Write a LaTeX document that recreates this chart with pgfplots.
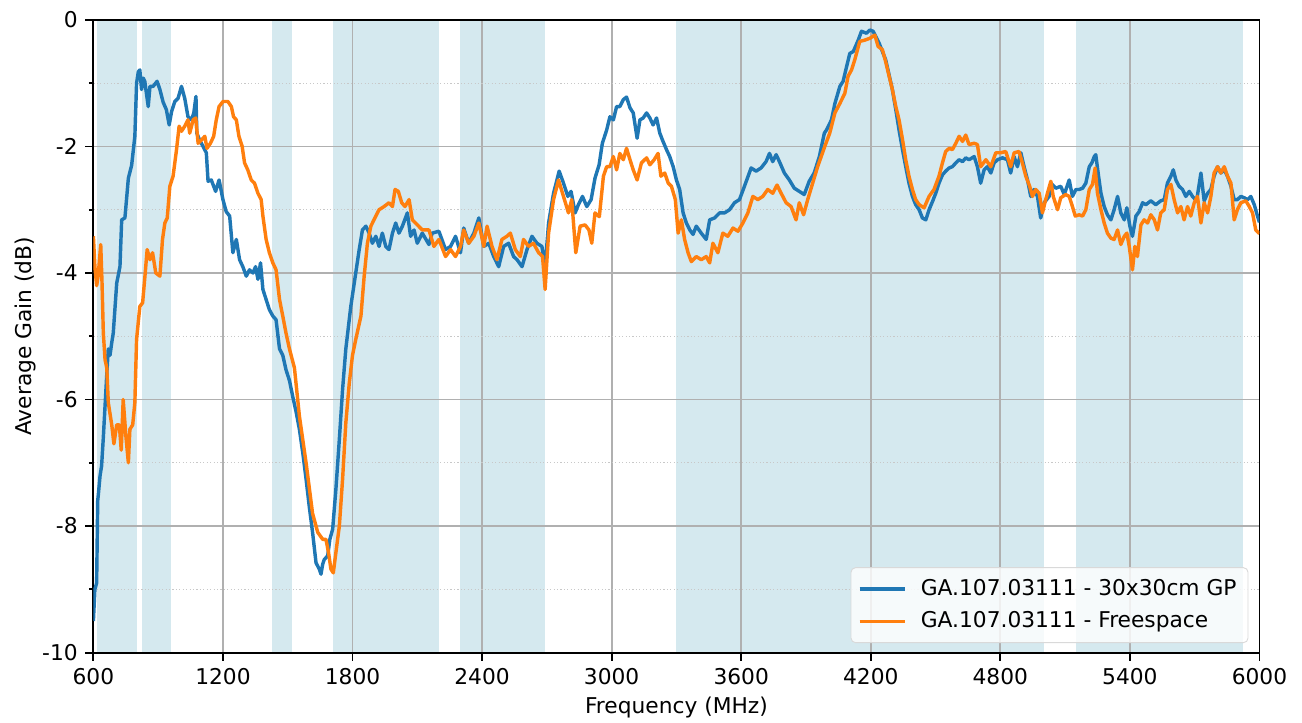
\documentclass[border=0pt]{standalone}
\usepackage{fontspec}
\setmainfont{DejaVu Sans}
\usepackage{pgfplots}
\pgfplotsset{compat=1.18}
\definecolor{mblue}{HTML}{1F77B4}
\definecolor{morange}{HTML}{FF7F0E}
\definecolor{band}{HTML}{D5E9EF}
\definecolor{gridc}{HTML}{B0B0B0}
\pgfplotsset{bandstyle/.style={draw=none, fill=band, on layer=axis background, forget plot, line width=0pt}}
\begin{document}
\fontsize{9.5pt}{11.4pt}\selectfont
\begin{tikzpicture}
\begin{axis}[
  set layers,
  scale only axis,
  width=509.4pt, height=276.4pt,
  xmin=600, xmax=6000, ymin=-10, ymax=0,
  xtick={600,1200,1800,2400,3000,3600,4200,4800,5400,6000},
  xticklabels={600,1200,1800,2400,3000,3600,4200,4800,5400,6000},
  ytick={-10,-8,-6,-4,-2,0},
  yticklabels={-10,-8,-6,-4,-2,0},
  minor ytick={-9,-7,-5,-3,-1},
  /pgf/number format/assume math mode=true,
  tick align=outside,
  tick pos=left,
  major tick length=3.5pt,
  minor tick length=2pt,
  every tick/.style={black, line width=0.8pt},
  axis line style={black, line width=0.8pt},
  grid=both,
  major grid style={gridc, line width=0.8pt},
  minor grid style={gridc!70, line width=0.5pt, densely dotted},
  xlabel={Frequency (MHz)},
  ylabel={Average Gain (dB)},
  xlabel style={yshift=1pt},
  ylabel style={yshift=-4pt},
  legend cell align=left,
  legend style={at={(0.9906,0.015)}, anchor=south east, draw=gray!30, fill=white, fill opacity=0.8, text opacity=1, rounded corners=2pt, inner xsep=3pt, inner ysep=3pt, row sep=1.8pt},
  legend image code/.code={\draw[#1, line width=1.5pt] (0pt,0pt) -- (20pt,0pt); \path (24pt,0pt);},
  every axis plot/.append style={line width=1.5pt, line join=round},
]
\addplot[bandstyle] coordinates {(617,-10)(617,0)(803,0)(803,-10)} -- cycle;
\addplot[bandstyle] coordinates {(824,-10)(824,0)(960,0)(960,-10)} -- cycle;
\addplot[bandstyle] coordinates {(1427,-10)(1427,0)(1518,0)(1518,-10)} -- cycle;
\addplot[bandstyle] coordinates {(1710,-10)(1710,0)(2200,0)(2200,-10)} -- cycle;
\addplot[bandstyle] coordinates {(2300,-10)(2300,0)(2690,0)(2690,-10)} -- cycle;
\addplot[bandstyle] coordinates {(3300,-10)(3300,0)(5000,0)(5000,-10)} -- cycle;
\addplot[bandstyle] coordinates {(5150,-10)(5150,0)(5925,0)(5925,-10)} -- cycle;
\addplot[mblue] coordinates {
(600,-9.5)(607,-9.0)(615,-8.9)(620,-7.6)(623,-7.5)(631,-7.2)(638,-7.05)(646,-6.6)(654,-6.1)(662,-5.6)(669,-5.2)(677,-5.3)(685,-5.1)(692,-4.95)(708,-4.16)(723,-3.9)(731,-3.16)(746,-3.13)(762,-2.5)(777,-2.3)(792,-1.84)(800,-1.0)(808,-0.82)(815,-0.79)(823,-1.1)(831,-0.92)(838,-0.97)(854,-1.37)(862,-1.05)(877,-1.05)(895,-0.97)(908,-1.1)(923,-1.3)(938,-1.42)(951,-1.66)(962,-1.45)(977,-1.29)(992,-1.24)(1008,-1.05)(1023,-1.24)(1038,-1.53)(1054,-1.58)(1065,-1.47)(1075,-1.21)(1079,-1.79)(1092,-1.9)(1108,-2.0)(1123,-2.1)(1131,-2.55)(1146,-2.53)(1166,-2.71)(1182,-2.53)(1200,-2.84)(1215,-3.03)(1231,-3.1)(1246,-3.68)(1262,-3.47)(1277,-3.79)(1292,-3.9)(1308,-4.05)(1323,-3.95)(1339,-4.0)(1351,-3.9)(1362,-4.1)(1374,-3.84)(1385,-4.26)(1400,-4.42)(1415,-4.58)(1431,-4.68)(1446,-4.74)(1462,-5.2)(1477,-5.3)(1492,-5.53)(1508,-5.7)(1523,-5.95)(1539,-6.2)(1554,-6.47)(1570,-6.85)(1585,-7.26)(1600,-7.7)(1615,-8.1)(1631,-8.58)(1646,-8.68)(1654,-8.76)(1662,-8.6)(1669,-8.53)(1685,-8.47)(1695,-8.21)(1708,-8.05)(1723,-7.42)(1739,-6.63)(1754,-5.84)(1769,-5.2)(1792,-4.53)(1815,-4.0)(1831,-3.63)(1846,-3.32)(1862,-3.26)(1877,-3.37)(1892,-3.53)(1908,-3.42)(1923,-3.58)(1938,-3.37)(1954,-3.58)(1969,-3.63)(1985,-3.37)(2000,-3.21)(2015,-3.37)(2031,-3.26)(2054,-3.05)(2069,-3.42)(2085,-3.32)(2100,-3.53)(2123,-3.37)(2154,-3.55)(2169,-3.37)(2200,-3.34)(2231,-3.63)(2254,-3.58)(2277,-3.42)(2300,-3.68)(2315,-3.29)(2338,-3.53)(2362,-3.37)(2385,-3.13)(2408,-3.58)(2431,-3.53)(2454,-3.74)(2477,-3.9)(2500,-3.58)(2523,-3.53)(2546,-3.74)(2562,-3.79)(2585,-3.9)(2608,-3.63)(2631,-3.42)(2654,-3.53)(2677,-3.58)(2692,-3.9)(2708,-3.21)(2731,-2.74)(2757,-2.39)(2777,-2.58)(2797,-2.79)(2812,-2.71)(2831,-3.05)(2846,-2.92)(2865,-2.79)(2885,-2.95)(2905,-2.84)(2923,-2.5)(2942,-2.29)(2957,-1.95)(2977,-1.74)(2992,-1.53)(3008,-1.58)(3023,-1.37)(3038,-1.37)(3054,-1.26)(3069,-1.22)(3085,-1.39)(3100,-1.47)(3118,-1.87)(3131,-1.58)(3146,-1.55)(3162,-1.47)(3177,-1.55)(3192,-1.66)(3208,-1.55)(3223,-1.79)(3238,-1.92)(3254,-2.05)(3269,-2.16)(3285,-2.32)(3300,-2.53)(3315,-2.68)(3331,-3.05)(3346,-3.21)(3362,-3.32)(3377,-3.39)(3392,-3.26)(3415,-3.37)(3438,-3.47)(3454,-3.16)(3477,-3.13)(3500,-3.05)(3523,-3.05)(3546,-3.0)(3569,-2.89)(3592,-2.84)(3615,-2.63)(3646,-2.34)(3669,-2.39)(3692,-2.34)(3715,-2.24)(3731,-2.11)(3746,-2.24)(3762,-2.13)(3777,-2.24)(3800,-2.42)(3823,-2.53)(3846,-2.66)(3869,-2.71)(3892,-2.76)(3915,-2.55)(3938,-2.42)(3962,-2.16)(3985,-1.79)(3995,-1.74)(4018,-1.58)(4034,-1.32)(4057,-1.05)(4072,-0.97)(4088,-0.74)(4103,-0.53)(4119,-0.5)(4142,-0.32)(4157,-0.18)(4180,-0.21)(4196,-0.16)(4211,-0.18)(4223,-0.26)(4239,-0.37)(4254,-0.5)(4269,-0.63)(4285,-0.87)(4300,-1.1)(4316,-1.42)(4331,-1.74)(4347,-2.05)(4362,-2.32)(4377,-2.58)(4393,-2.79)(4408,-2.92)(4424,-3.0)(4439,-3.13)(4455,-3.16)(4470,-3.0)(4486,-2.87)(4501,-2.74)(4516,-2.58)(4532,-2.45)(4547,-2.39)(4563,-2.34)(4578,-2.32)(4594,-2.26)(4609,-2.21)(4625,-2.24)(4640,-2.18)(4655,-2.21)(4679,-2.16)(4694,-2.32)(4709,-2.58)(4725,-2.37)(4740,-2.32)(4756,-2.42)(4771,-2.26)(4787,-2.21)(4810,-2.18)(4833,-2.21)(4848,-2.42)(4864,-2.16)(4879,-2.32)(4895,-2.1)(4910,-2.32)(4926,-2.53)(4941,-2.79)(4956,-2.68)(4972,-2.79)(4987,-3.13)(5003,-2.89)(5026,-2.79)(5034,-2.58)(5057,-2.66)(5080,-2.63)(5096,-2.76)(5119,-2.53)(5134,-2.79)(5150,-2.68)(5165,-2.68)(5181,-2.66)(5196,-2.58)(5212,-2.32)(5224,-2.26)(5235,-2.16)(5242,-2.13)(5255,-2.47)(5266,-2.74)(5281,-2.95)(5296,-3.08)(5312,-3.16)(5327,-3.0)(5343,-2.79)(5358,-3.05)(5374,-3.16)(5386,-2.97)(5400,-3.26)(5412,-3.42)(5428,-3.1)(5443,-3.03)(5459,-2.89)(5474,-2.92)(5497,-2.86)(5520,-2.92)(5543,-2.86)(5559,-2.84)(5574,-2.58)(5590,-2.47)(5601,-2.37)(5613,-2.53)(5628,-2.63)(5644,-2.68)(5659,-2.79)(5675,-2.71)(5690,-2.79)(5709,-2.86)(5729,-2.42)(5744,-2.86)(5760,-2.74)(5775,-2.68)(5790,-2.47)(5806,-2.32)(5821,-2.42)(5837,-2.37)(5852,-2.47)(5868,-2.63)(5883,-2.84)(5898,-2.84)(5914,-2.79)(5929,-2.81)(5945,-2.84)(5960,-2.79)(5976,-2.92)(5991,-3.1)(6000,-3.2)
};
\addlegendentry{GA.107.03111 - 30x30cm GP}
\addplot[morange] coordinates {
(600,-3.42)(607,-3.9)(615,-4.2)(622,-4.05)(634,-3.55)(640,-4.16)(646,-4.95)(654,-5.37)(662,-5.5)(669,-6.05)(685,-6.4)(695,-6.7)(708,-6.4)(720,-6.4)(729,-6.8)(738,-6.0)(751,-6.6)(762,-7.0)(769,-6.47)(782,-6.4)(792,-6.05)(800,-5.05)(815,-4.53)(828,-4.47)(840,-4.0)(849,-3.63)(862,-3.79)(874,-3.68)(889,-4.0)(908,-4.05)(920,-3.47)(931,-3.21)(942,-3.13)(954,-2.63)(969,-2.47)(985,-2.05)(997,-1.68)(1008,-1.76)(1023,-1.68)(1038,-1.58)(1046,-1.79)(1062,-1.58)(1074,-1.55)(1085,-1.95)(1100,-1.9)(1116,-1.84)(1126,-2.03)(1142,-1.95)(1157,-1.84)(1169,-1.58)(1182,-1.37)(1200,-1.29)(1223,-1.29)(1239,-1.37)(1249,-1.53)(1262,-1.58)(1274,-1.84)(1289,-2.0)(1300,-2.26)(1315,-2.37)(1331,-2.53)(1346,-2.58)(1362,-2.74)(1377,-2.84)(1385,-3.1)(1400,-3.47)(1415,-3.68)(1431,-3.84)(1446,-3.95)(1462,-4.42)(1477,-4.68)(1492,-4.95)(1508,-5.2)(1531,-5.5)(1554,-6.26)(1585,-7.0)(1615,-7.8)(1639,-8.1)(1662,-8.21)(1677,-8.21)(1689,-8.42)(1700,-8.68)(1711,-8.74)(1723,-8.42)(1739,-8.0)(1754,-7.26)(1769,-6.37)(1785,-5.74)(1800,-5.3)(1815,-5.05)(1839,-4.68)(1854,-4.05)(1869,-3.53)(1885,-3.26)(1908,-3.1)(1923,-3.0)(1946,-2.95)(1969,-2.89)(1985,-2.95)(1997,-2.68)(2012,-2.71)(2028,-2.89)(2043,-2.95)(2062,-2.84)(2077,-3.16)(2092,-3.21)(2123,-3.32)(2154,-3.32)(2177,-3.58)(2200,-3.47)(2231,-3.74)(2254,-3.63)(2277,-3.74)(2300,-3.58)(2315,-3.32)(2338,-3.53)(2362,-3.42)(2385,-3.21)(2408,-3.58)(2423,-3.26)(2446,-3.58)(2469,-3.79)(2492,-3.47)(2515,-3.42)(2531,-3.37)(2554,-3.63)(2577,-3.74)(2592,-3.47)(2615,-3.58)(2638,-3.53)(2662,-3.68)(2680,-3.74)(2692,-4.26)(2708,-3.37)(2731,-2.84)(2754,-2.53)(2777,-2.79)(2800,-3.05)(2815,-2.84)(2834,-3.68)(2854,-3.26)(2877,-3.24)(2895,-3.32)(2908,-3.53)(2923,-3.05)(2943,-3.11)(2962,-2.47)(2977,-2.32)(2992,-2.32)(3008,-2.16)(3023,-2.37)(3038,-2.11)(3054,-2.21)(3069,-2.03)(3085,-2.21)(3100,-2.37)(3118,-2.53)(3138,-2.26)(3162,-2.18)(3177,-2.29)(3197,-2.21)(3215,-2.11)(3228,-2.47)(3246,-2.42)(3262,-2.58)(3277,-2.63)(3295,-2.84)(3308,-3.37)(3323,-3.16)(3338,-3.47)(3354,-3.68)(3369,-3.82)(3392,-3.74)(3415,-3.79)(3438,-3.74)(3454,-3.84)(3469,-3.53)(3492,-3.68)(3515,-3.37)(3538,-3.42)(3562,-3.29)(3585,-3.34)(3608,-3.21)(3631,-3.05)(3654,-2.79)(3677,-2.84)(3700,-2.79)(3723,-2.68)(3746,-2.74)(3766,-2.61)(3785,-2.74)(3808,-2.89)(3831,-2.95)(3854,-3.16)(3869,-2.89)(3889,-3.08)(3908,-2.84)(3931,-2.58)(3954,-2.32)(3987,-2.0)(4010,-1.79)(4034,-1.47)(4057,-1.32)(4080,-1.16)(4095,-0.89)(4111,-0.79)(4126,-0.63)(4149,-0.34)(4172,-0.32)(4196,-0.29)(4219,-0.24)(4234,-0.42)(4254,-0.47)(4269,-0.66)(4285,-0.89)(4300,-1.1)(4316,-1.37)(4331,-1.58)(4347,-1.89)(4362,-2.21)(4377,-2.47)(4393,-2.68)(4408,-2.84)(4424,-2.92)(4447,-2.97)(4470,-2.79)(4493,-2.68)(4516,-2.47)(4532,-2.26)(4547,-2.08)(4563,-2.03)(4578,-2.05)(4594,-1.95)(4609,-1.84)(4625,-1.92)(4640,-1.82)(4655,-1.97)(4679,-1.95)(4694,-1.97)(4709,-2.32)(4733,-2.21)(4756,-2.32)(4779,-2.1)(4802,-2.1)(4825,-2.08)(4848,-2.32)(4864,-2.1)(4887,-2.08)(4902,-2.26)(4918,-2.47)(4936,-2.63)(4949,-2.79)(4964,-2.68)(4980,-2.74)(4995,-3.05)(5010,-2.84)(5034,-2.55)(5045,-2.79)(5065,-3.0)(5080,-2.81)(5103,-2.76)(5119,-2.79)(5134,-2.95)(5147,-3.1)(5165,-3.08)(5181,-3.1)(5196,-3.0)(5212,-2.68)(5227,-2.6)(5239,-2.34)(5250,-2.74)(5266,-3.0)(5281,-3.21)(5296,-3.37)(5312,-3.45)(5327,-3.47)(5343,-3.32)(5358,-3.55)(5374,-3.42)(5386,-3.37)(5397,-3.58)(5412,-3.95)(5423,-3.58)(5435,-3.74)(5451,-3.24)(5466,-3.16)(5482,-3.21)(5497,-3.08)(5513,-3.16)(5528,-3.32)(5543,-3.05)(5559,-3.0)(5574,-2.68)(5590,-2.6)(5605,-2.84)(5621,-3.05)(5636,-2.95)(5651,-3.16)(5667,-2.95)(5682,-3.1)(5698,-2.89)(5713,-2.79)(5729,-3.21)(5744,-2.89)(5760,-3.05)(5775,-2.79)(5790,-2.42)(5806,-2.32)(5821,-2.42)(5837,-2.32)(5852,-2.47)(5868,-2.58)(5883,-3.16)(5898,-3.0)(5914,-2.89)(5937,-2.86)(5953,-2.95)(5968,-3.05)(5983,-3.32)(6000,-3.38)
};
\addlegendentry{GA.107.03111 - Freespace}
\end{axis}
\pgfresetboundingbox
\path[use as bounding box] (-40.8pt,-30.6pt) rectangle (528pt,285.1pt);
\end{tikzpicture}
\end{document}
